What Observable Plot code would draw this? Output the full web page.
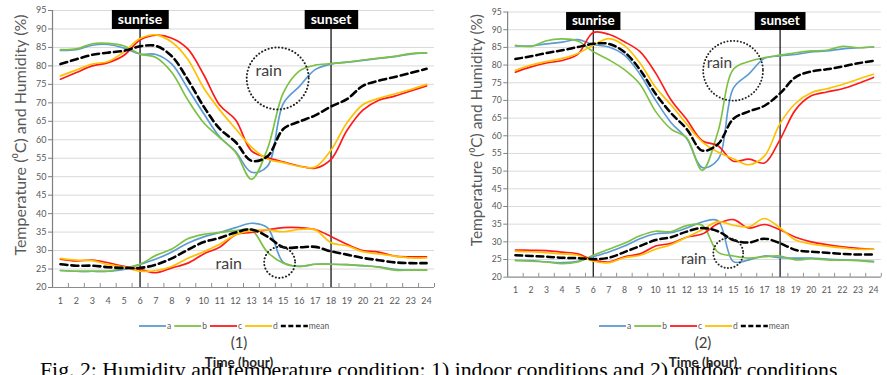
<!DOCTYPE html>
<html>
<head>
<meta charset="utf-8">
<script src="https://cdn.jsdelivr.net/npm/d3@7"></script>
<script src="https://cdn.jsdelivr.net/npm/@observablehq/plot@0.6"></script>
<style>
  html, body { margin: 0; padding: 0; background: #fff; }
  #root { position: relative; width: 887px; height: 375px; overflow: hidden; font-family: Lato, "Open Sans", sans-serif; }
  .panel { position: absolute; top: 0; }
  .legend { position: absolute; display: block; overflow: visible; }
  .plabel { position: absolute; font-size: 15px; color: #404040; transform: translateX(-50%); white-space: nowrap; }
  .xtitle { position: absolute; font-size: 13.5px; font-weight: bold; color: #262626; transform: translateX(-50%); white-space: nowrap; }
  #caption { position: absolute; left: 40px; top: 361px; font-family: "Liberation Serif", "Times New Roman", serif; font-size: 19px; line-height: 19px; color: #000; white-space: nowrap; }
</style>
</head>
<body>
<div id="root">
  <div id="p1" class="panel" style="left:0px"></div>
  <div id="p2" class="panel" style="left:457px"></div>
</div>
<script>
// ---------- shared categories / labels ----------
const hours = [1,2,3,4,5,6,7,8,9,10,11,12,13,14,15,16,17,18,19,20,21,22,23,24];
const seriesNames = ["a", "b", "c", "d", "mean"];
const seriesColors = ["#5B9BD5", "#7DC143", "#FF1A1A", "#FFC000", "#000000"];
const yTicks = [20,25,30,35,40,45,50,55,60,65,70,75,80,85,90,95];
const sunriseHour = 6;
const sunsetHour = 18;
const sunLabels = ["sunrise", "sunset"];
const rainLabel = "rain";
const panelLabels = ["(1)", "(2)"];
const yTitle = "Temperature (\u2070C) and Humidity (%)";
const xTitle = "Time (hour)";
const captionText = "Fig. 2: Humidity and temperature condition: 1) indoor conditions and 2) outdoor conditions";

// ---------- panel (1): indoor ----------
const inHumA    = [84.2,84.4,85.6,85.8,84.8,83.2,83.1,80.5,73.9,67.1,60.8,56.8,51.2,52.8,69.8,74.4,79.0,80.5,81.0,81.5,82.0,82.5,83.2,83.5];
const inHumB    = [84.4,84.6,86.0,86.1,85.4,83.2,82.3,78.2,70.8,64.6,60.6,56.6,49.3,57.5,72.7,78.6,80.2,80.6,81.0,81.6,82.1,82.6,83.3,83.5];
const inHumC    = [76.4,78.2,80.0,80.9,82.9,87.0,88.3,87.5,84.6,77.6,69.4,65.4,57.0,55.2,54.0,52.9,52.3,54.7,62.5,68.0,70.7,71.8,73.2,74.6];
const inHumD    = [77.3,78.9,80.5,81.2,83.8,87.4,88.4,86.4,81.8,74.0,68.1,63.0,58.0,54.8,53.8,52.8,52.6,57.2,64.6,69.5,71.2,72.4,73.6,75.0];
const inHumMean = [80.5,81.8,83.0,83.6,84.1,85.3,85.4,82.6,76.3,69.0,63.0,59.4,54.3,55.5,62.9,64.9,66.6,69.0,71.0,74.6,76.0,77.0,78.1,79.2];

const inTempA    = [24.6,24.4,24.4,24.4,24.9,26.3,27.7,29.6,32.0,33.7,34.9,36.2,37.4,36.2,26.8,25.7,26.3,26.3,26.2,25.9,25.6,24.9,24.7,24.7];
const inTempB    = [24.6,24.4,24.4,24.4,25.3,26.3,28.7,30.4,33.2,34.4,34.9,35.4,35.6,29.6,26.6,25.7,26.3,26.3,26.2,25.9,25.5,24.7,24.7,24.7];
const inTempC    = [27.7,27.2,27.4,26.7,25.7,24.9,24.0,25.3,26.6,29.1,30.9,34.3,34.9,35.6,36.2,36.2,35.7,33.8,31.7,30.0,29.6,28.5,28.3,28.3];
const inTempD    = [27.9,27.4,27.3,26.2,25.5,24.4,24.6,25.7,27.9,29.7,31.7,34.3,35.4,35.6,35.1,35.7,35.6,32.1,31.3,29.7,29.1,28.5,28.0,28.0];
const inTempMean = [26.3,25.9,25.9,25.5,25.3,25.3,26.2,27.9,30.2,32.3,33.4,34.9,35.7,33.8,30.9,30.9,31.0,29.8,28.9,28.0,27.4,26.8,26.6,26.6];

// ---------- panel (2): outdoor ----------
const outHumA    = [85.4,85.4,86.0,86.5,87.2,85.8,85.1,82.8,77.4,70.1,63.7,59.2,51.0,53.2,73.5,77.5,81.9,82.6,83.0,83.7,84.0,84.6,84.9,85.1];
const outHumB    = [85.6,85.3,86.9,87.4,86.8,83.8,81.5,78.7,74.6,66.9,61.9,59.4,50.2,61.0,78.8,81.0,82.1,82.8,83.5,84.0,84.2,85.3,84.9,85.1];
const outHumC    = [78.0,79.5,80.6,81.3,83.0,89.2,88.7,86.6,83.8,77.8,70.1,64.6,58.6,57.2,52.8,53.4,52.3,59.0,67.4,71.3,72.4,73.3,74.8,76.5];
const outHumD    = [78.5,80.0,81.0,81.9,83.3,85.6,87.5,85.5,80.6,73.7,68.7,63.3,58.3,55.4,53.5,51.8,54.3,63.5,69.2,72.2,73.3,74.5,76.0,77.4];
const outHumMean = [81.7,82.5,83.4,84.2,85.1,86.0,86.0,83.7,78.7,71.9,66.4,61.9,55.8,57.6,64.8,66.9,68.5,72.0,76.6,78.2,78.8,79.6,80.5,81.2];

const outTempA    = [24.8,24.7,24.3,24.1,24.5,25.8,27.1,28.8,30.9,32.3,32.6,33.9,35.6,36.0,24.4,24.9,26.0,25.5,25.4,25.4,25.1,24.9,24.8,24.5];
const outTempB    = [24.7,24.5,24.3,23.8,24.3,26.2,27.9,29.6,31.7,33.0,32.9,34.6,34.7,27.1,26.0,25.4,25.8,26.0,24.9,25.2,24.9,24.8,24.7,24.3];
const outTempC    = [27.7,27.6,27.5,27.1,26.6,24.9,24.3,25.8,26.6,28.8,29.6,31.3,32.2,35.1,36.3,33.9,34.9,33.4,31.3,30.0,29.2,28.6,28.2,27.9];
const outTempD    = [27.3,27.2,26.9,26.6,26.2,24.5,24.1,25.5,26.2,27.9,29.2,31.3,33.4,35.7,34.7,34.3,36.6,33.9,30.5,29.4,28.8,28.3,27.9,27.9];
const outTempMean = [26.2,26.0,25.8,25.5,25.4,25.1,25.5,27.1,28.8,30.5,31.3,32.9,33.9,33.0,30.5,29.8,30.9,29.6,27.7,27.2,26.9,26.6,26.4,26.4];

// rain annotation positions (hour, value)
const inRainTop    = {hour: 14.65, value: 76.6};
const inRainBottom = {hour: 14.77, value: 26.8};
const inRainTopText    = {hour: 14.08, value: 78.7};
const inRainBottomText = {hour: 11.57, value: 26.5};
const outRainTop    = {hour: 14.98, value: 78.4};
const outRainBottom = {hour: 14.67, value: 26.8};
const outRainTopText    = {hour: 14.1, value: 80.5};
const outRainBottomText = {hour: 12.45, value: 25.2};

const SVGNS = "http://www.w3.org/2000/svg";

function buildPanel(cfg) {
  const rows = [];
  seriesNames.forEach((name, si) => {
    cfg.hum[si].forEach((v, i) => rows.push({hour: hours[i], value: v, series: name, kind: "hum"}));
    cfg.temp[si].forEach((v, i) => rows.push({hour: hours[i], value: v, series: name, kind: "temp"}));
  });
  const boundaries = hours.map(h => h - 0.5).concat([hours[hours.length - 1] + 0.5]);
  const lineMarks = seriesNames.map((name, si) => Plot.line(rows.filter(d => d.series === name), {
    x: "hour", y: "value", z: "kind",
    stroke: seriesColors[si],
    strokeWidth: name === "mean" ? 2.6 : 1.7,
    strokeDasharray: name === "mean" ? "7,4" : null,
    curve: "catmull-rom"
  }));
  const sunData = [{hour: sunriseHour, label: sunLabels[0]}, {hour: sunsetHour, label: sunLabels[1]}];
  const svg = Plot.plot({
    width: cfg.width, height: 307,
    marginLeft: 52, marginRight: cfg.marginRight, marginTop: cfg.marginTop, marginBottom: 20,
    x: {domain: [0.5, 24.5], axis: null},
    y: {domain: [20, 95], axis: null},
    style: {fontFamily: "Lato, 'Open Sans', sans-serif", background: "transparent", overflow: "visible"},
    marks: [
      Plot.gridY(yTicks.filter(t => t > 20), {stroke: "#d9d9d9", strokeOpacity: 1, strokeWidth: 1}),
      Plot.ruleX(boundaries, {x: d => d, y1: 20, y2: 20, insetBottom: 4, stroke: "#8c8c8c"}),
      Plot.ruleY([20], {stroke: "#8c8c8c", strokeWidth: 1.2}),
      Plot.ruleX([0.5], {stroke: "#7f7f7f", strokeWidth: 1.2}),
      Plot.axisY({ticks: yTicks, tickSize: 4, tickPadding: 2, fontSize: 9, color: "#595959", stroke: "#7f7f7f", label: null}),
      Plot.axisX({ticks: hours, tickSize: 0, tickPadding: 10, fontSize: 9, color: "#595959", tickFormat: d => String(d), label: null}),
      Plot.text([yTitle], {frameAnchor: "left", textAnchor: "middle", rotate: -90, dx: -32, dy: cfg.titleDy, fontSize: 16, fill: "#595959"}),
      Plot.ruleX(sunData, {x: "hour", y1: 20, y2: 93, stroke: "#000", strokeWidth: 1.2}),
      ...lineMarks,
      Plot.dot([cfg.rainTop], {x: "hour", y: "value", r: 31, fill: "none", stroke: "#222", strokeWidth: 2, strokeDasharray: "0.1,3.4", strokeLinecap: "round"}),
      Plot.dot([cfg.rainBottom], {x: "hour", y: "value", r: 15.5, fill: "none", stroke: "#222", strokeWidth: 2, strokeDasharray: "0.1,3.4", strokeLinecap: "round"}),
      Plot.text([cfg.rainTopText, cfg.rainBottomText], {x: "hour", y: "value", text: () => rainLabel, fontSize: 16, fill: "#404040"}),
      Plot.text(sunData, {x: "hour", y: 95, text: "label", dy: 9, fontSize: 14, fontWeight: "bold", fill: "#fff"})
    ]
  });
  document.getElementById(cfg.id).appendChild(svg);
  // black boxes behind sunrise/sunset labels
  for (const t of svg.querySelectorAll("text")) {
    if (sunLabels.includes(t.textContent)) {
      const b = t.getBBox();
      const r = document.createElementNS(SVGNS, "rect");
      r.setAttribute("x", b.x - 6);
      r.setAttribute("y", b.y);
      r.setAttribute("width", b.width + 12);
      r.setAttribute("height", b.height + 2);
      r.setAttribute("fill", "#000");
      if (t.getAttribute("transform")) r.setAttribute("transform", t.getAttribute("transform"));
      t.parentNode.insertBefore(r, t);
    }
  }
  // legend (svg)
  const root = document.getElementById("root");
  const lg = document.createElementNS(SVGNS, "svg");
  lg.setAttribute("class", "legend");
  lg.setAttribute("width", 240); lg.setAttribute("height", 12);
  root.appendChild(lg);
  let x = 0;
  seriesNames.forEach((name, si) => {
    const ln = document.createElementNS(SVGNS, "line");
    ln.setAttribute("x1", x); ln.setAttribute("x2", x + 27);
    ln.setAttribute("y1", 6); ln.setAttribute("y2", 6);
    ln.setAttribute("stroke", seriesColors[si]);
    ln.setAttribute("stroke-width", name === "mean" ? 2.6 : 1.8);
    if (name === "mean") ln.setAttribute("stroke-dasharray", "5,2.5");
    lg.appendChild(ln);
    x += 28;
    const tx = document.createElementNS(SVGNS, "text");
    tx.setAttribute("x", x); tx.setAttribute("y", 6);
    tx.setAttribute("dy", "0.35em");
    tx.setAttribute("font-size", 8.5);
    tx.setAttribute("fill", "#595959");
    tx.setAttribute("font-family", "Lato, sans-serif");
    tx.textContent = name;
    lg.appendChild(tx);
    x += tx.getComputedTextLength() + 3;
  });
  lg.setAttribute("width", x);
  lg.style.left = (cfg.legendCenter - x / 2) + "px";
  lg.style.top = (326 - 6) + "px";
  const pl = document.createElement("div");
  pl.className = "plabel"; pl.textContent = cfg.label;
  pl.style.left = cfg.labelCenter + "px"; pl.style.top = "333px";
  root.appendChild(pl);
  const xt = document.createElement("div");
  xt.className = "xtitle"; xt.textContent = xTitle;
  xt.style.left = cfg.labelCenter + "px"; xt.style.top = "354px";
  root.appendChild(xt);
}

buildPanel({id: "p1", width: 440, marginRight: 6, marginTop: 10, titleDy: -14,
  hum: [inHumA, inHumB, inHumC, inHumD, inHumMean],
  temp: [inTempA, inTempB, inTempC, inTempD, inTempMean],
  rainTop: inRainTop, rainBottom: inRainBottom, rainTopText: inRainTopText, rainBottomText: inRainBottomText,
  label: panelLabels[0], legendCenter: 236, labelCenter: 239});
buildPanel({id: "p2", width: 446, marginRight: 6.4, marginTop: 12, titleDy: -15,
  hum: [outHumA, outHumB, outHumC, outHumD, outHumMean],
  temp: [outTempA, outTempB, outTempC, outTempD, outTempMean],
  rainTop: outRainTop, rainBottom: outRainBottom, rainTopText: outRainTopText, rainBottomText: outRainBottomText,
  label: panelLabels[1], legendCenter: 696, labelCenter: 703});

const cap = document.createElement("div");
cap.id = "caption";
cap.textContent = captionText;
document.getElementById("root").appendChild(cap);
// fit caption to the span it occupies in the figure (x 40 → 838)
const targetW = 798;
cap.style.fontSize = (19 * targetW / cap.offsetWidth) + "px";
</script>
</body>
</html>
